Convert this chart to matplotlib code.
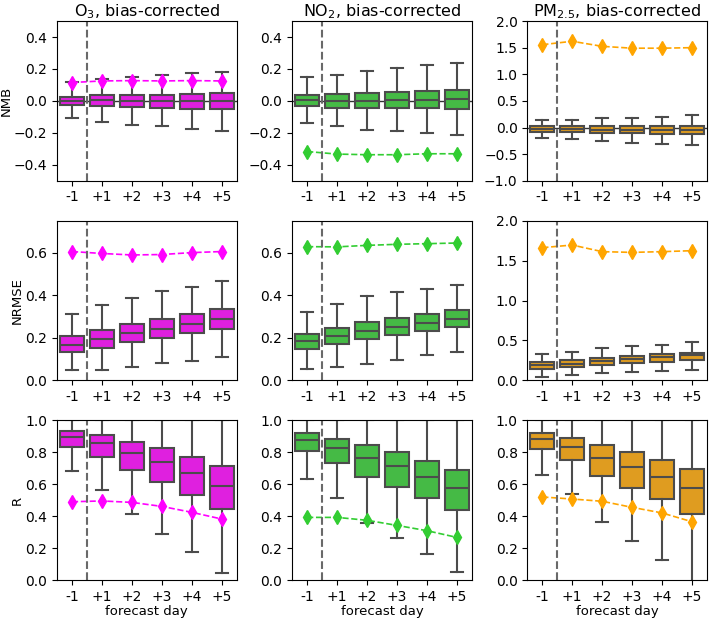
"""Boxplots of NMB / NRMSE / R by forecast day for O3, NO2 and PM2.5."""

import colorsys
import matplotlib
matplotlib.use('Agg')
import matplotlib.colors as mcolors
import matplotlib.pyplot as plt

days = ['-1', '+1', '+2', '+3', '+4', '+5']
species = ['O$_3$', 'NO$_2$', 'PM$_{2.5}$']
metrics = ['NMB', 'NRMSE', 'R']

# box statistics: q1, median, q3, lower whisker, upper whisker (per forecast day)
o3_nmb_q1 = [-0.027, -0.035, -0.040, -0.045, -0.050, -0.052]
o3_nmb_med = [0.0, 0.004, 0.0, 0.0, 0.0, 0.0]
o3_nmb_q3 = [0.027, 0.035, 0.038, 0.040, 0.042, 0.048]
o3_nmb_lo = [-0.110, -0.130, -0.150, -0.160, -0.177, -0.187]
o3_nmb_hi = [0.119, 0.140, 0.150, 0.160, 0.173, 0.183]
o3_nmb_ref = [0.115, 0.125, 0.127, 0.125, 0.127, 0.125]

no2_nmb_q1 = [-0.035, -0.042, -0.042, -0.046, -0.046, -0.050]
no2_nmb_med = [0.004, 0.0, 0.0, 0.004, 0.008, 0.010]
no2_nmb_q3 = [0.037, 0.042, 0.050, 0.058, 0.062, 0.067]
no2_nmb_lo = [-0.140, -0.160, -0.180, -0.190, -0.200, -0.215]
no2_nmb_hi = [0.148, 0.165, 0.190, 0.205, 0.223, 0.238]
no2_nmb_ref = [-0.317, -0.333, -0.337, -0.337, -0.331, -0.331]

pm_nmb_q1 = [-0.075, -0.080, -0.100, -0.110, -0.120, -0.125]
pm_nmb_med = [-0.025, -0.025, -0.040, -0.045, -0.045, -0.045]
pm_nmb_q3 = [0.031, 0.025, 0.020, 0.020, 0.025, 0.030]
pm_nmb_lo = [-0.190, -0.210, -0.256, -0.290, -0.306, -0.325]
pm_nmb_hi = [0.144, 0.150, 0.175, 0.180, 0.205, 0.237]
pm_nmb_ref = [1.556, 1.620, 1.525, 1.490, 1.490, 1.500]

o3_rmse_q1 = [0.134, 0.154, 0.179, 0.200, 0.221, 0.243]
o3_rmse_med = [0.168, 0.193, 0.221, 0.243, 0.264, 0.289]
o3_rmse_q3 = [0.207, 0.236, 0.266, 0.289, 0.310, 0.336]
o3_rmse_lo = [0.047, 0.047, 0.061, 0.082, 0.093, 0.112]
o3_rmse_hi = [0.313, 0.355, 0.389, 0.418, 0.440, 0.468]
o3_rmse_ref = [0.605, 0.596, 0.589, 0.591, 0.600, 0.605]

no2_rmse_q1 = [0.148, 0.170, 0.194, 0.212, 0.233, 0.252]
no2_rmse_med = [0.183, 0.208, 0.233, 0.252, 0.270, 0.290]
no2_rmse_q3 = [0.220, 0.247, 0.272, 0.294, 0.311, 0.331]
no2_rmse_lo = [0.053, 0.064, 0.075, 0.095, 0.117, 0.134]
no2_rmse_hi = [0.323, 0.358, 0.394, 0.414, 0.428, 0.447]
no2_rmse_ref = [0.628, 0.627, 0.634, 0.639, 0.642, 0.645]

pm_rmse_q1 = [0.142, 0.163, 0.192, 0.213, 0.230, 0.250]
pm_rmse_med = [0.196, 0.209, 0.238, 0.263, 0.288, 0.313]
pm_rmse_q3 = [0.225, 0.255, 0.284, 0.305, 0.326, 0.347]
pm_rmse_lo = [0.046, 0.067, 0.088, 0.100, 0.113, 0.125]
pm_rmse_hi = [0.330, 0.355, 0.410, 0.430, 0.447, 0.476]
pm_rmse_ref = [1.662, 1.695, 1.612, 1.603, 1.612, 1.624]

o3_r_q1 = [0.833, 0.770, 0.687, 0.616, 0.532, 0.447]
o3_r_med = [0.896, 0.856, 0.795, 0.737, 0.672, 0.591]
o3_r_q3 = [0.935, 0.910, 0.866, 0.825, 0.772, 0.716]
o3_r_lo = [0.683, 0.564, 0.413, 0.290, 0.175, 0.042]
o3_r_hi = [1.0, 1.0, 1.0, 1.0, 1.0, 1.0]
o3_r_ref = [0.490, 0.495, 0.486, 0.461, 0.424, 0.382]

no2_r_q1 = [0.806, 0.735, 0.647, 0.582, 0.514, 0.436]
no2_r_med = [0.875, 0.827, 0.764, 0.712, 0.647, 0.576]
no2_r_q3 = [0.921, 0.885, 0.846, 0.802, 0.747, 0.691]
no2_r_lo = [0.635, 0.511, 0.357, 0.265, 0.163, 0.048]
no2_r_hi = [1.0, 1.0, 1.0, 1.0, 1.0, 1.0]
no2_r_ref = [0.392, 0.392, 0.374, 0.342, 0.309, 0.267]

pm_r_q1 = [0.818, 0.752, 0.651, 0.578, 0.505, 0.415]
pm_r_med = [0.883, 0.835, 0.766, 0.708, 0.643, 0.576]
pm_r_q3 = [0.921, 0.889, 0.846, 0.802, 0.754, 0.697]
pm_r_lo = [0.660, 0.541, 0.363, 0.244, 0.127, -0.017]
pm_r_hi = [1.0, 1.0, 1.0, 1.0, 1.0, 1.0]
pm_r_ref = [0.520, 0.507, 0.493, 0.455, 0.420, 0.365]

panels = [
    [(o3_nmb_q1, o3_nmb_med, o3_nmb_q3, o3_nmb_lo, o3_nmb_hi, o3_nmb_ref),
     (no2_nmb_q1, no2_nmb_med, no2_nmb_q3, no2_nmb_lo, no2_nmb_hi, no2_nmb_ref),
     (pm_nmb_q1, pm_nmb_med, pm_nmb_q3, pm_nmb_lo, pm_nmb_hi, pm_nmb_ref)],
    [(o3_rmse_q1, o3_rmse_med, o3_rmse_q3, o3_rmse_lo, o3_rmse_hi, o3_rmse_ref),
     (no2_rmse_q1, no2_rmse_med, no2_rmse_q3, no2_rmse_lo, no2_rmse_hi, no2_rmse_ref),
     (pm_rmse_q1, pm_rmse_med, pm_rmse_q3, pm_rmse_lo, pm_rmse_hi, pm_rmse_ref)],
    [(o3_r_q1, o3_r_med, o3_r_q3, o3_r_lo, o3_r_hi, o3_r_ref),
     (no2_r_q1, no2_r_med, no2_r_q3, no2_r_lo, no2_r_hi, no2_r_ref),
     (pm_r_q1, pm_r_med, pm_r_q3, pm_r_lo, pm_r_hi, pm_r_ref)],
]

colors = ['magenta', 'limegreen', 'orange']


def desaturate(color, prop=0.75):
    h, l, s = colorsys.rgb_to_hls(*mcolors.to_rgb(color))
    return colorsys.hls_to_rgb(h, l, s * prop)


def ylims(row, col):
    if row == 0:
        if col == 2:
            return (-1.0, 2.0), [-1.0, -0.5, 0.0, 0.5, 1.0, 1.5, 2.0]
        return (-0.5, 0.5), [-0.4, -0.2, 0.0, 0.2, 0.4]
    if row == 1:
        if col == 2:
            return (0.0, 2.0), [0.0, 0.5, 1.0, 1.5, 2.0]
        return (0.0, 0.75), [0.0, 0.2, 0.4, 0.6]
    return (0.0, 1.0), [0.0, 0.2, 0.4, 0.6, 0.8, 1.0]


if __name__ == '__main__':
    fig, axes = plt.subplots(nrows=3, ncols=3, figsize=(7.09, 6.19), dpi=100)
    fig.subplots_adjust(left=0.0804, right=0.997, top=0.966, bottom=0.063,
                        wspace=0.31, hspace=0.25)

    gray = '#4c4c4c'
    pos = list(range(len(days)))

    for r in range(3):
        for c in range(3):
            ax = axes[r, c]
            q1, med, q3, lo, hi, ref = panels[r][c]
            stats = [dict(q1=a, med=b, q3=d, whislo=e, whishi=f, fliers=[])
                     for a, b, d, e, f in zip(q1, med, q3, lo, hi)]
            if r == 0:
                ax.axhline(0, color='#333333', lw=1.0, zorder=0)
            ax.bxp(stats, positions=pos, widths=0.8, patch_artist=True,
                   showfliers=False,
                   boxprops=dict(facecolor=desaturate(colors[c]), edgecolor=gray, lw=1.5),
                   whiskerprops=dict(color=gray, lw=1.5),
                   capprops=dict(color=gray, lw=1.5),
                   medianprops=dict(color=gray, lw=1.5))
            ax.plot(pos, ref, 'd--', color=colors[c], ms=7.5, lw=1.2)
            ax.axvline(0.5, color='dimgray', ls='--', lw=1.5)

            lim, ticks = ylims(r, c)
            ax.set_ylim(lim)
            ax.set_yticks(ticks)
            ax.set_xlim(-0.5, 5.5)
            ax.set_xticks(pos)
            ax.set_xticklabels(days)
            ax.tick_params(labelsize=10)
            if r == 0:
                ax.set_title(species[c] + ', bias-corrected', fontsize=11.5, pad=3)
            if c == 0:
                ax.set_ylabel(metrics[r], fontsize=9.5, labelpad=1)
            if r == 2:
                ax.set_xlabel('forecast day', fontsize=9.5, labelpad=1)

    fig.savefig('out.png', dpi=100)
